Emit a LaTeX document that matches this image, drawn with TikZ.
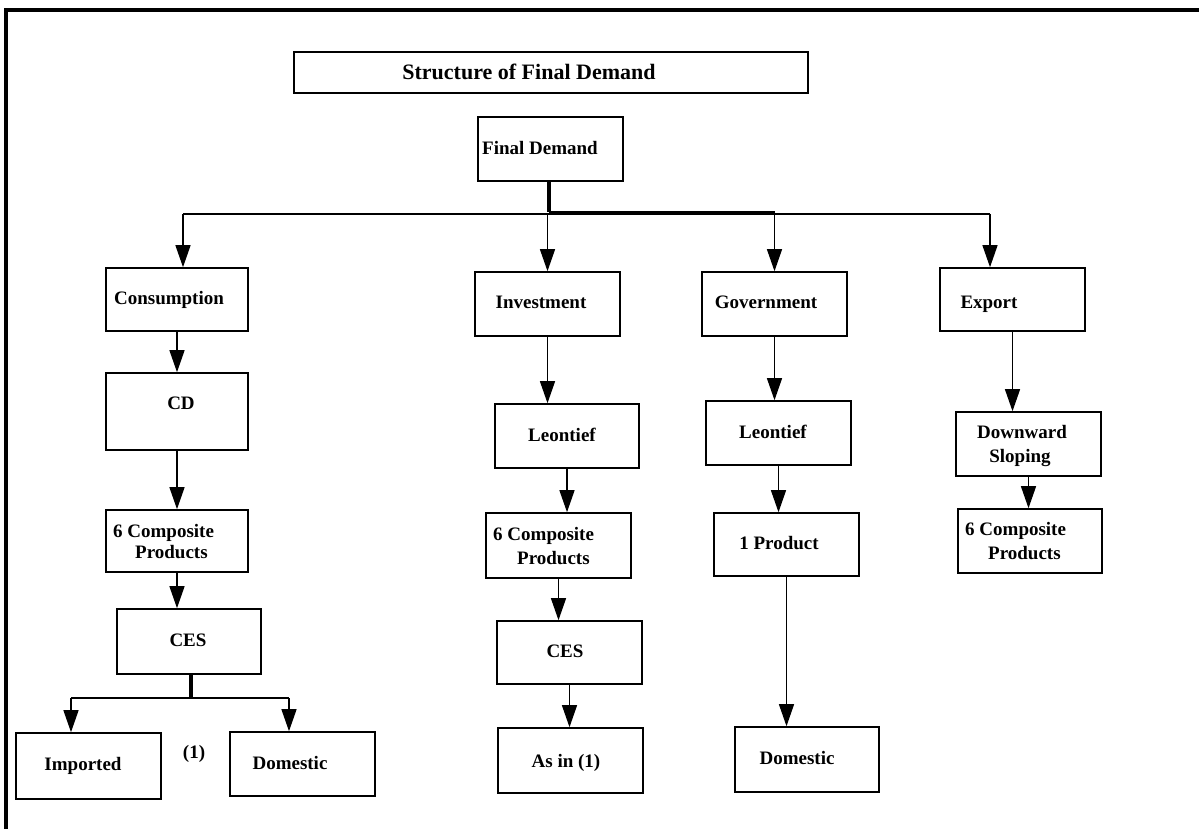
\documentclass[tikz,border=0pt]{standalone}
\usepackage{fontspec}
\setmainfont{Liberation Serif}
\usetikzlibrary{arrows.meta}
\begin{document}
\begin{tikzpicture}[x=1pt,y=-1pt,
  box/.style={draw, line width=1.6pt, inner sep=0pt, fill=white},
  txt/.style={font=\fontsize{19}{23}\selectfont\bfseries, inner sep=0pt, anchor=base},
  txtw/.style={txt, anchor=base west},
  arr/.style={line width=1.3pt, -{Triangle[length=22pt,width=15pt]}},
  ln/.style={line width=1.3pt},
  stem/.style={line width=3.5pt},
  frameline/.style={line width=3.5pt}]
\useasboundingbox (0,0) rectangle (1199,829);
% frame
\coordinate (ftl) at (6,10);
\coordinate (ftr) at (1199,10);
\coordinate (fbl) at (6,829);
\draw[frameline] (ftr) -- (ftl) -- (fbl);
% boxes
\node[box, minimum width=514pt, minimum height=41pt] (title) at (551,72.5) {};
\node[box, minimum width=145pt, minimum height=64pt] (fd) at (550.5,149) {};
\node[box, minimum width=142pt, minimum height=63pt] (cons) at (177,299.5) {};
\node[box, minimum width=142pt, minimum height=77pt] (cd) at (177,411.5) {};
\node[box, minimum width=142pt, minimum height=62pt] (cpa) at (177,541) {};
\node[box, minimum width=144pt, minimum height=65pt] (cesa) at (189,641.5) {};
\node[box, minimum width=145pt, minimum height=66pt] (imp) at (88.5,766) {};
\node[box, minimum width=145pt, minimum height=64pt] (doma) at (302.5,764) {};
\node[box, minimum width=145pt, minimum height=64pt] (inv) at (547.5,304) {};
\node[box, minimum width=144pt, minimum height=64pt] (leoa) at (567,436) {};
\node[box, minimum width=145pt, minimum height=65pt] (cpb) at (558.5,545.5) {};
\node[box, minimum width=145pt, minimum height=63pt] (cesb) at (569.5,652.5) {};
\node[box, minimum width=145pt, minimum height=65pt] (asin) at (570.5,760.5) {};
\node[box, minimum width=145pt, minimum height=64pt] (gov) at (774.5,304) {};
\node[box, minimum width=145pt, minimum height=64pt] (leob) at (778.5,433) {};
\node[box, minimum width=145pt, minimum height=63pt] (prod) at (786.5,544.5) {};
\node[box, minimum width=144pt, minimum height=65pt] (domb) at (807,759.5) {};
\node[box, minimum width=145pt, minimum height=63pt] (exp) at (1012.5,299.5) {};
\node[box, minimum width=145pt, minimum height=64pt] (ds) at (1028.5,444) {};
\node[box, minimum width=144pt, minimum height=64pt] (cpc) at (1030,541) {};
% texts
\node[txt, font=\fontsize{22}{26}\selectfont\bfseries] (ttitle) at (529,80) {Structure of Final Demand};
\node[txtw] (tfd) at (482,154.5) {Final Demand};
\node[txt] (tcons) at (169,304.5) {Consumption};
\node[txt] (tcd) at (181,409.5) {CD};
\node[txtw] (tcpa1) at (113,537.5) {6 Composite};
\node[txtw] (tcpa2) at (135,558.5) {Products};
\node[txt] (tcesa) at (188,646.5) {CES};
\node[txt] (timp) at (83,770) {Imported};
\node[txt] (tone) at (194,758) {(1)};
\node[txt] (tdoma) at (290,769) {Domestic};
\node[txt] (tinv) at (541,308) {Investment};
\node[txt] (tleoa) at (562,441) {Leontief};
\node[txtw] (tcpb1) at (493,540) {6 Composite};
\node[txtw] (tcpb2) at (517,564) {Products};
\node[txt] (tcesb) at (565,657) {CES};
\node[txt] (tasin) at (566,767) {As in (1)};
\node[txt] (tgov) at (766,308) {Government};
\node[txt] (tleob) at (773,438) {Leontief};
\node[txt] (tprod) at (779,549) {1 Product};
\node[txt] (tdomb) at (797,764) {Domestic};
\node[txt] (texp) at (989,308) {Export};
\node[txt] (tds1) at (1022,438) {Downward};
\node[txt] (tds2) at (1020,462) {Sloping};
\node[txtw] (tcpc1) at (965,535) {6 Composite};
\node[txtw] (tcpc2) at (988,559) {Products};
% top distribution
\coordinate (j) at (549,212);
\coordinate (hl) at (183,214);
\coordinate (hr) at (990,214);
\draw[stem] (fd.south -| j) -- (j);
\draw[ln] (hl) -- (hr);
\draw[arr] (j) -- (j -| gov.north) -- (gov.north);
\draw[arr] (hl) -- (hl |- cons.north);
\draw[arr] (hr) -- (hr |- exp.north);
\draw[arr] (inv.north |- hl) -- (inv.north);
% consumption column
\draw[arr] (cons.south) -- (cons.south |- cd.north);
\draw[arr] (cd.south) -- (cd.south |- cpa.north);
\draw[arr] (cpa.south) -- (cpa.south |- cesa.north);
\coordinate (k) at (191,698);
\coordinate (kl) at (71,698);
\coordinate (kr) at (289,698);
\draw[stem] (cesa.south -| k) -- (k);
\draw[ln] (kl) -- (kr);
\draw[arr] (kl) -- (kl |- imp.north);
\draw[arr] (kr) -- (kr |- doma.north);
% investment column
\draw[arr] (inv.south) -- (inv.south |- leoa.north);
\draw[arr] (leoa.south) -- (leoa.south |- cpb.north);
\draw[arr] (cpb.south) -- (cpb.south |- cesb.north);
\draw[arr] (cesb.south) -- (cesb.south |- asin.north);
% government column
\draw[arr] (gov.south) -- (gov.south |- leob.north);
\draw[arr] (leob.south) -- (leob.south |- prod.north);
\draw[arr] (prod.south) -- (prod.south |- domb.north);
% export column
\draw[arr] (exp.south) -- (exp.south |- ds.north);
\draw[arr] (ds.south) -- (ds.south |- cpc.north);
\end{tikzpicture}
\end{document}
